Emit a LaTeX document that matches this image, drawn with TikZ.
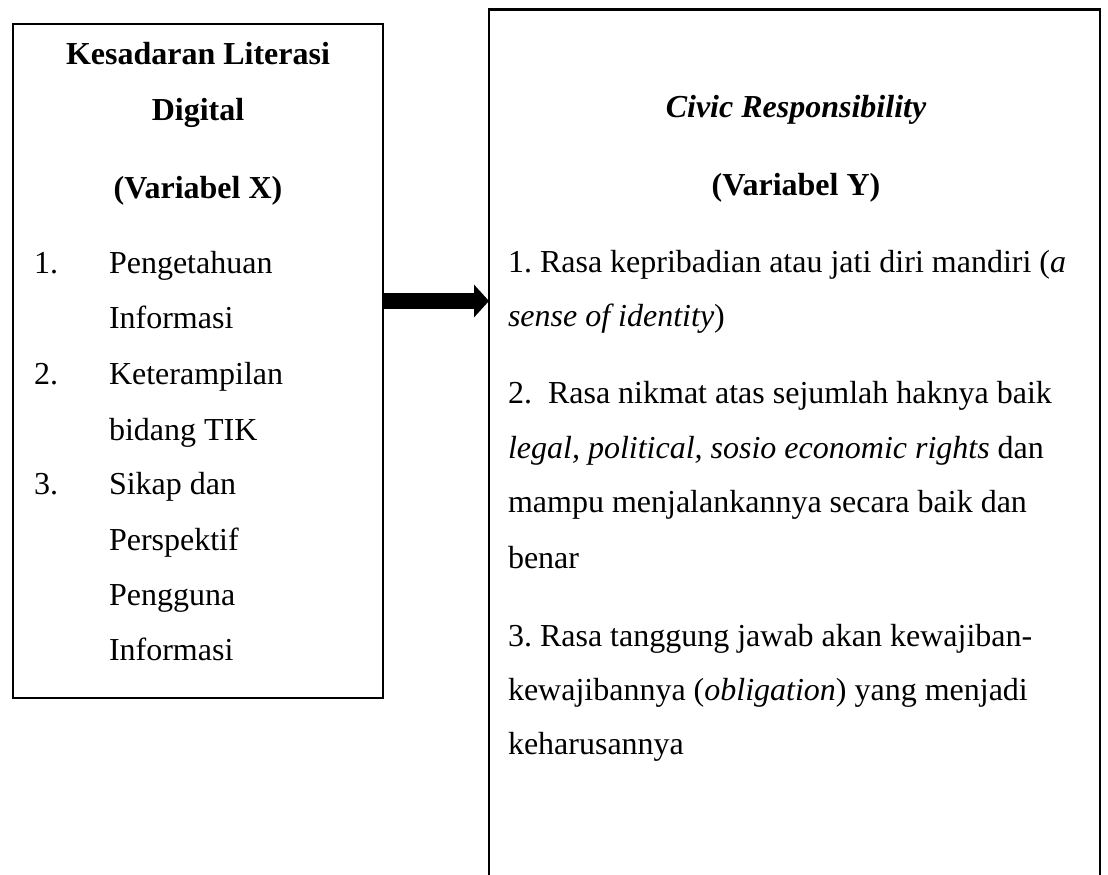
\documentclass[tikz,border=0pt]{standalone}
\usepackage{fontspec}
\setmainfont{Liberation Serif}
\frenchspacing
\usetikzlibrary{arrows.meta,calc}
\tikzset{
  frame/.style={draw=black, line width=2.5pt, inner sep=0pt, outer sep=0pt},
  txt/.style={inner sep=0pt, outer sep=0pt, font=\fontsize{32}{38}\selectfont\frenchspacing},
  ltxt/.style={txt, anchor=base west},
  ctxt/.style={txt, anchor=base},
  bigarrow/.style={line width=16pt, -{Triangle[length=15pt,width=32pt]}}
}
\begin{document}
\begin{tikzpicture}[x=1pt,y=-1pt]
\useasboundingbox (0,0) rectangle (1108,875);
\fill[white] (0,0) rectangle (1108,875);
% left box
\node[frame, minimum width=370pt, minimum height=674pt] (lbox) at (198,361) {};
% right box (runs past the bottom edge)
\begin{scope}
\clip (0,0) rectangle (1108,875);
\node[frame, minimum width=611pt, minimum height=890pt] (rbox) at (794.5,454.5) {};
\end{scope}
% left texts
\node[ctxt, font=\fontsize{32}{38}\selectfont\bfseries] (lh1) at (198,65) {Kesadaran Literasi};
\node[ctxt, font=\fontsize{32}{38}\selectfont\bfseries] (lh2) at (198,120) {Digital};
\node[ctxt, font=\fontsize{32}{38}\selectfont\bfseries] (lh3) at (198,198) {(Variabel X)};
\node[ltxt] (n1) at (34,273) {1.};
\node[ltxt] (n2) at (34,384) {2.};
\node[ltxt] (n3) at (34,494) {3.};
\foreach \t/\y [count=\i] in {Pengetahuan/273, Informasi/328, Keterampilan/384, bidang TIK/440, Sikap dan/494, Perspektif/550, Pengguna/605, Informasi/660}
  \node[ltxt] (li\i) at (109,\y) {\t};
% right texts
\node[ctxt, font=\fontsize{32}{38}\selectfont\bfseries\itshape] (rh1) at (796,117) {Civic Responsibility};
\node[ctxt, font=\fontsize{32}{38}\selectfont\bfseries] (rh2) at (796,195) {(Variabel Y)};
\node[ltxt] (r1) at (508,272) {1. Rasa kepribadian atau jati diri mandiri (\textit{a}};
\node[ltxt] (r2) at (508,326) {\textit{sense of identity})};
\node[ltxt] (r3) at (508,403) {2.\ \ Rasa nikmat atas sejumlah haknya baik};
\node[ltxt] (r4) at (508,458) {\textit{legal, political, sosio economic rights} dan};
\node[ltxt] (r5) at (508,512) {mampu menjalankannya secara baik dan};
\node[ltxt] (r6) at (508,568) {benar};
\node[ltxt] (r7) at (508,646) {3. Rasa tanggung jawab akan kewajiban-};
\node[ltxt] (r8) at (508,700) {kewajibannya (\textit{obligation}) yang menjadi};
\node[ltxt] (r9) at (508,754) {keharusannya};
% arrow
\coordinate (as) at ([yshift=60pt]lbox.east);
\draw[bigarrow] (as) -- (as -| rbox.west);
\end{tikzpicture}
\end{document}
